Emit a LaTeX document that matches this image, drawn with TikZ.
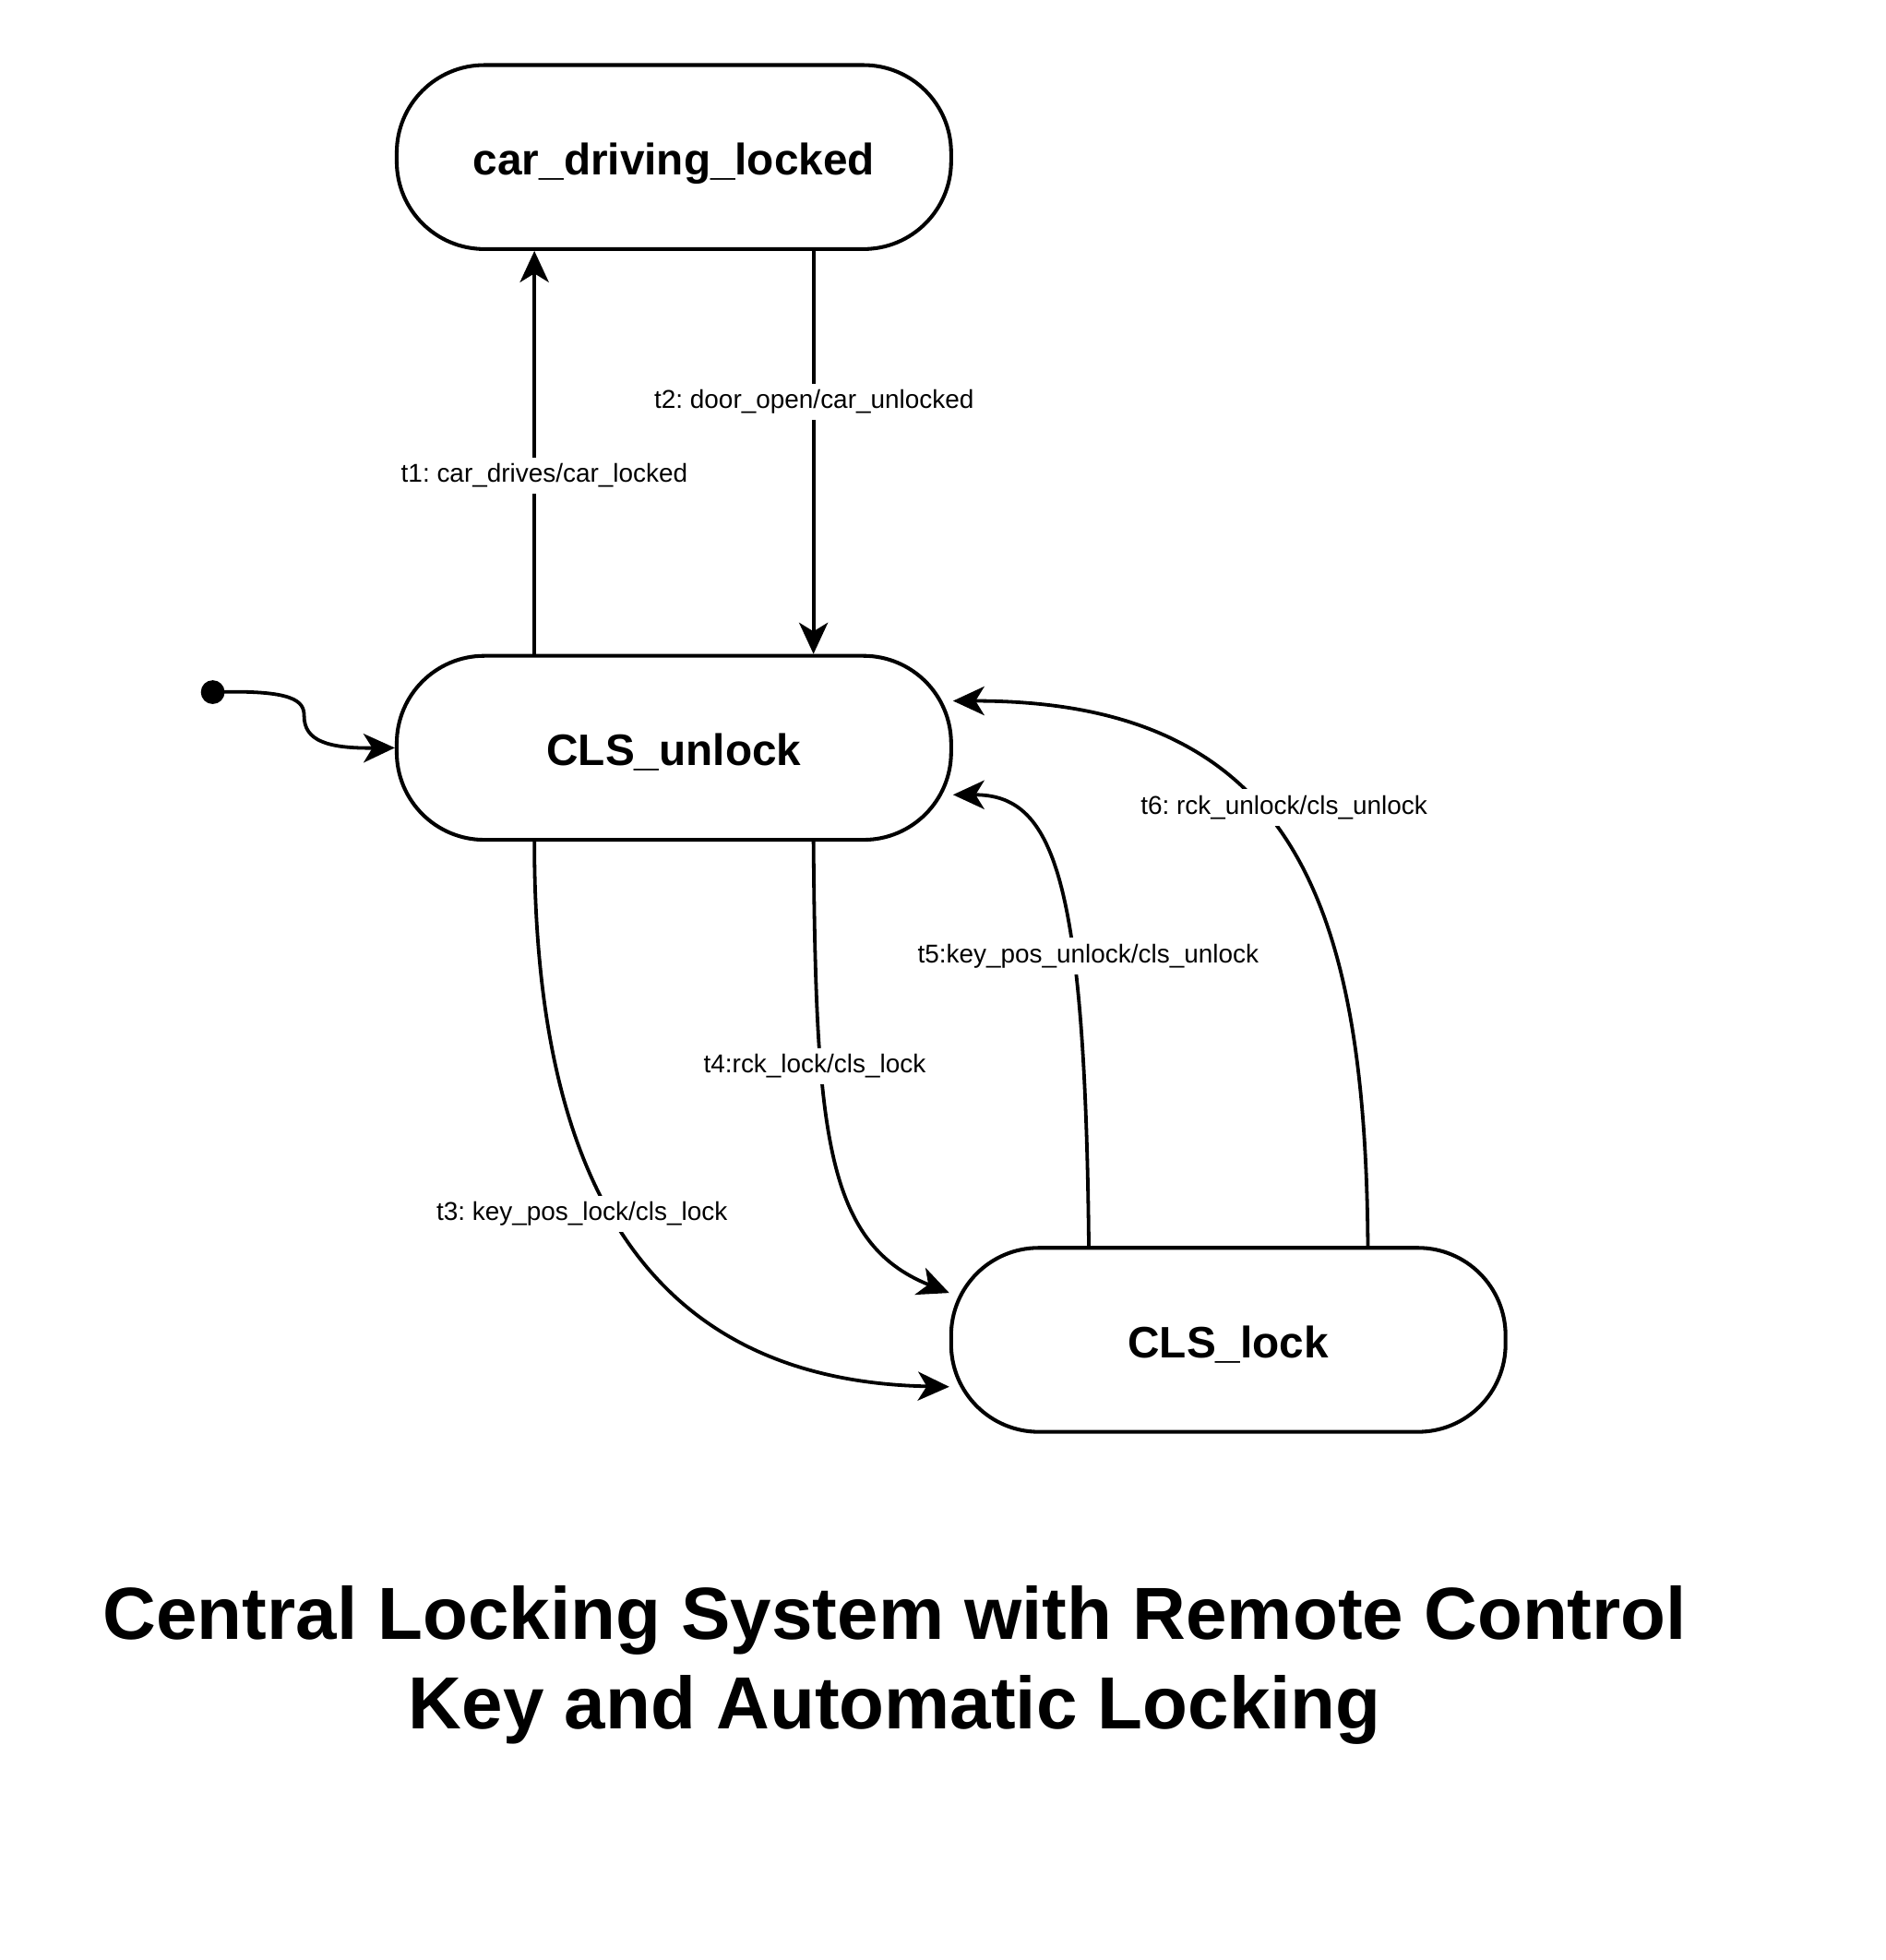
\documentclass[tikz,border=0pt]{standalone}
\usepackage{fontspec}
\setmainfont{Liberation Sans}
\usetikzlibrary{arrows.meta,calc}
\begin{document}
\frenchspacing
\begin{tikzpicture}[x=0.5pt,y=-0.5pt,
  stbox/.style={draw, line width=1.5pt, rounded corners=35pt, minimum width=221.5pt, minimum height=73.5pt, inner sep=0pt, text height=14.1pt, text depth=0pt, font=\fontsize{17.6}{21}\selectfont\bfseries},
  tr/.style={line width=1.4pt, -{Stealth[length=12.5pt,width=11.5pt,inset=3.5pt]}},
  lbl/.style={fill=white, inner sep=2.5pt, font=\fontsize{10.3}{12}\selectfont},
  ttl/.style={font=\fontsize{29.5}{35}\selectfont\bfseries, anchor=base, inner sep=0pt}]
\useasboundingbox (0,0) rectangle (1507,1566);

\node[stbox] (cdl) at (538.5,125.5) {car\_driving\_locked};
\node[stbox] (unl) at (538.5,597.5) {CLS\_unlock};
\node[stbox] (lck) at (981.5,1070.5) {CLS\_lock};
\node[circle, fill, inner sep=0pt, minimum size=9.5pt] (init) at (170,553) {};

\coordinate (cdlS1) at ($(cdl.south west)!0.25!(cdl.south east)$);
\coordinate (cdlS3) at ($(cdl.south west)!0.75!(cdl.south east)$);
\coordinate (unlN1) at ($(unl.north west)!0.25!(unl.north east)$);
\coordinate (unlN3) at ($(unl.north west)!0.75!(unl.north east)$);
\coordinate (unlS1) at ($(unl.south west)!0.25!(unl.south east)$);
\coordinate (unlS3) at ($(unl.south west)!0.75!(unl.south east)$);
\coordinate (unlE1) at ($(unl.north east)!0.25!(unl.south east)$);
\coordinate (unlE3) at ($(unl.north east)!0.75!(unl.south east)$);
\coordinate (lckN1) at ($(lck.north west)!0.25!(lck.north east)$);
\coordinate (lckN3) at ($(lck.north west)!0.75!(lck.north east)$);
\coordinate (lckW1) at ($(lck.north west)!0.25!(lck.south west)$);
\coordinate (lckW3) at ($(lck.north west)!0.75!(lck.south west)$);

% initial transition
\draw[tr] (init.center) .. controls (235,551) and (243,560) .. (243,572)
  .. controls (243,592) and (262,598) .. (unl.west);

% t1, t2
\draw[tr] (unlN1) -- (cdlS1);
\draw[tr] (cdlS3) -- (unlN3);
% t3, t4
\draw[tr] (unlS1) .. controls +(0,259) and +(-250,-5) .. (lckW3);
\draw[tr] (unlS3) .. controls +(2,229) and +(-100,-40) .. (lckW1);
% t5, t6
\draw[tr] (lckN1) .. controls +(-3,-297) and +(80,0) .. (unlE3);
\draw[tr] (lckN3) .. controls +(-2,-277) and +(270,0) .. (unlE1);

% labels
\node[lbl] (l1) at (435,380) {t1: car\_drives/car\_locked};
\node[lbl] (l2) at (650.5,321) {t2: door\_open/car\_unlocked};
\node[lbl] (l3) at (465,970) {t3: key\_pos\_lock/cls\_lock};
\node[lbl] (l4) at (651,852) {t4:rck\_lock/cls\_lock};
\node[lbl] (l5) at (869.5,764) {t5:key\_pos\_unlock/cls\_unlock};
\node[lbl] (l6) at (1026,645) {t6: rck\_unlock/cls\_unlock};

% title
\node[ttl] (title1) at (715,1310) {Central Locking System with Remote Control};
\node[ttl] (title2) at (715,1381) {Key and Automatic Locking};
\end{tikzpicture}
\end{document}
